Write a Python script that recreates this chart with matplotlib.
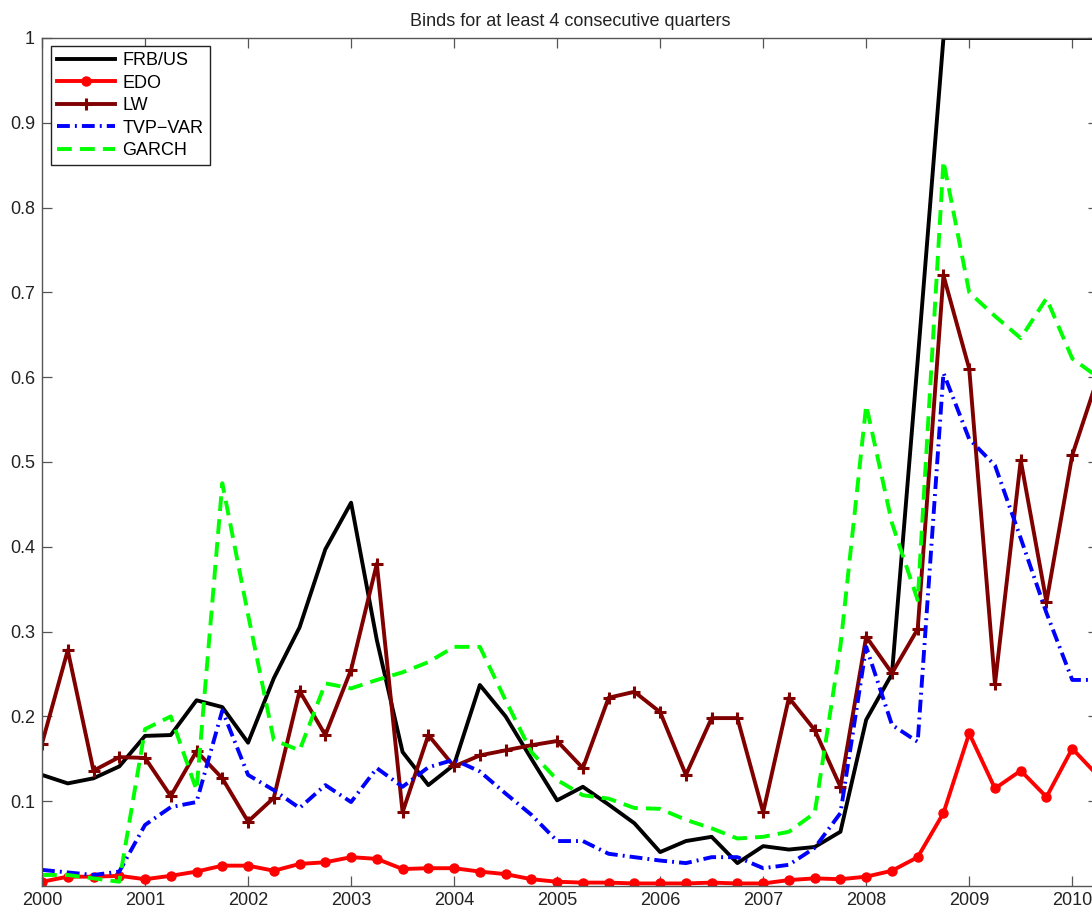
import numpy as np
import matplotlib
matplotlib.use("Agg")
import matplotlib.pyplot as plt

plt.rcParams['font.family'] = ['Liberation Sans', 'DejaVu Sans']

# Quarterly dates, 2000Q1 .. 2010Q2
quarters = np.arange(2000.0, 2010.26, 0.25)

frbus = [0.131, 0.121, 0.127, 0.141,
         0.177, 0.178, 0.219, 0.211,
         0.169, 0.245, 0.305, 0.397,
         0.452, 0.290, 0.158, 0.119,
         0.143, 0.237, 0.200, 0.150,
         0.101, 0.117, 0.096, 0.074,
         0.040, 0.053, 0.058, 0.027,
         0.047, 0.043, 0.046, 0.064,
         0.196, 0.250, 0.620, 1.000,
         1.000, 1.000, 1.000, 1.000,
         1.000, 1.000]

edo = [0.005, 0.011, 0.011, 0.012,
       0.008, 0.012, 0.017, 0.024,
       0.024, 0.018, 0.026, 0.028,
       0.034, 0.032, 0.020, 0.021,
       0.021, 0.017, 0.014, 0.008,
       0.005, 0.004, 0.004, 0.003,
       0.003, 0.003, 0.004, 0.003,
       0.003, 0.007, 0.009, 0.008,
       0.011, 0.018, 0.034, 0.086,
       0.180, 0.115, 0.136, 0.105,
       0.162, 0.130]

lw_model = [0.168, 0.278, 0.136, 0.152,
            0.151, 0.106, 0.159, 0.127,
            0.076, 0.104, 0.230, 0.178,
            0.255, 0.380, 0.087, 0.178,
            0.141, 0.154, 0.160, 0.166,
            0.171, 0.139, 0.222, 0.229,
            0.205, 0.131, 0.198, 0.198,
            0.087, 0.222, 0.184, 0.117,
            0.294, 0.251, 0.303, 0.720,
            0.610, 0.238, 0.502, 0.335,
            0.508, 0.600]

tvp_var = [0.019, 0.016, 0.013, 0.017,
           0.072, 0.093, 0.099, 0.207,
           0.131, 0.113, 0.092, 0.119,
           0.099, 0.139, 0.117, 0.140,
           0.149, 0.135, 0.109, 0.084,
           0.053, 0.053, 0.038, 0.034,
           0.030, 0.027, 0.034, 0.034,
           0.021, 0.025, 0.045, 0.086,
           0.282, 0.190, 0.170, 0.605,
           0.527, 0.496, 0.410, 0.322,
           0.243, 0.243]

garch = [0.013, 0.013, 0.009, 0.005,
         0.185, 0.200, 0.113, 0.475,
         0.320, 0.172, 0.160, 0.239,
         0.233, 0.243, 0.252, 0.264,
         0.282, 0.282, 0.219, 0.158,
         0.125, 0.107, 0.103, 0.092,
         0.091, 0.078, 0.068, 0.056,
         0.058, 0.064, 0.086, 0.283,
         0.567, 0.428, 0.337, 0.855,
         0.700, 0.672, 0.646, 0.693,
         0.622, 0.600]

labels = ['FRB/US', 'EDO', 'LW', 'TVP\u2212VAR', 'GARCH']
xticks = list(range(2000, 2011))
yticks = [0.1, 0.2, 0.3, 0.4, 0.5, 0.6, 0.7, 0.8, 0.9, 1.0]
ytick_labels = ['0.1', '0.2', '0.3', '0.4', '0.5', '0.6', '0.7', '0.8', '0.9', '1']

W, H = 1092, 910
fig = plt.figure(figsize=(W / 100, H / 100), dpi=100)
left, top, right, bottom = 42, 38, 1098, 886
ax = fig.add_axes([left / W, 1 - bottom / H, (right - left) / W, (bottom - top) / H])

lw = 2.8
ax.plot(quarters, frbus, color='black', lw=lw, label=labels[0])
ax.plot(quarters, edo, color='#ff0000', lw=lw, marker='o', ms=6.5,
        mec='#ff0000', mfc='#ff0000', label=labels[1])
ax.plot(quarters, lw_model, color='#800000', lw=lw, marker='+', ms=8,
        mew=2.2, label=labels[2])
ax.plot(quarters, tvp_var, color='#0000ff', lw=lw,
        linestyle=(0, (3.3, 1.3, 0.5, 1.3)), label=labels[3])
ax.plot(quarters, garch, color='#00ff00', lw=lw,
        linestyle=(0, (3.8, 2.1)), label=labels[4])

ax.set_xlim(2000, 2010.25)
ax.set_ylim(0, 1)
ax.set_xticks(xticks)
ax.set_xticklabels([str(x) for x in xticks])
ax.set_yticks(yticks)
ax.set_yticklabels(ytick_labels)

spine_col = '#555555'
for s in ax.spines.values():
    s.set_color(spine_col)
    s.set_linewidth(1.0)
ax.tick_params(direction='in', length=7, width=0.9, color=spine_col,
               top=True, right=True, labelsize=13, labelcolor='#222222')
ax.tick_params(axis='x', pad=4)
ax.tick_params(axis='y', pad=5)

ax.set_title('Binds for at least 4 consecutive quarters', fontsize=13,
             color='#222222', pad=9)

leg = ax.legend(loc='upper left',
                bbox_to_anchor=((51 - left) / (right - left), 1 - (46 - top) / (bottom - top)),
                borderaxespad=0, fontsize=13, handlelength=3.2, handletextpad=0.4,
                labelspacing=0.3, borderpad=0.35, fancybox=False, framealpha=1)
leg.get_frame().set_edgecolor('#222222')
leg.get_frame().set_linewidth(1.0)

fig.savefig('out.png', dpi=100)
